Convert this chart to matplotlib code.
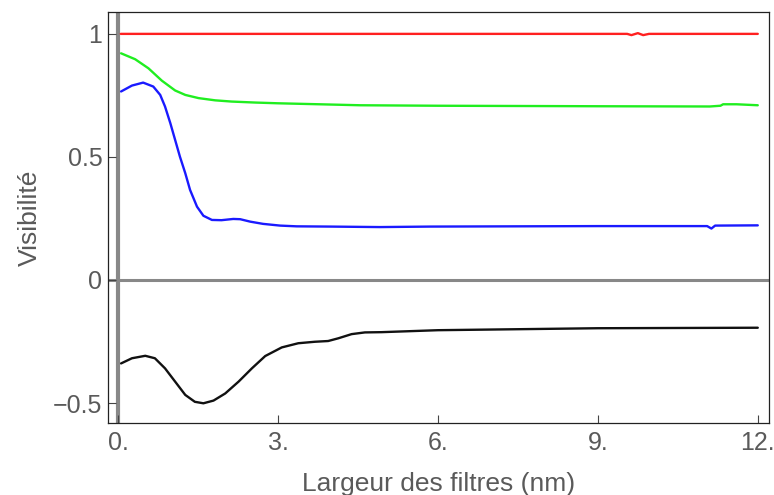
# Visibilite vs largeur des filtres
import matplotlib.pyplot as plt
import numpy as np

plt.rcParams['font.family'] = ['Liberation Sans', 'DejaVu Sans']

# red curve (~1 everywhere, small wiggle near 9.7)
x_red = [0.05, 3.0, 6.0, 9.55, 9.63, 9.75, 9.85, 9.96, 10.5, 12.0]
y_red = [1.0, 1.0, 1.0, 1.0, 0.995, 1.003, 0.995, 1.0, 1.0, 1.0]

# green curve
x_green = [0.056, 0.32, 0.57, 0.82, 1.07, 1.26, 1.51, 1.82, 2.13, 2.57, 3.0, 4.54, 6.0, 9.0,
           11.1, 11.3, 11.35, 11.6, 12.0]
y_green = [0.921, 0.897, 0.860, 0.810, 0.770, 0.752, 0.739, 0.730, 0.725, 0.721, 0.718, 0.710,
           0.708, 0.706, 0.705, 0.708, 0.714, 0.714, 0.71]

# blue curve
x_blue = [0.056, 0.26, 0.47, 0.66, 0.79, 0.88, 0.98, 1.07, 1.16, 1.26, 1.35, 1.48, 1.60, 1.76,
          1.94, 2.16, 2.29, 2.48, 2.72, 3.04, 3.35, 3.98, 4.91, 5.85, 9.0, 11.05, 11.13, 11.2, 12.0]
y_blue = [0.766, 0.790, 0.802, 0.786, 0.752, 0.705, 0.637, 0.569, 0.501, 0.434, 0.366, 0.298,
          0.261, 0.244, 0.243, 0.248, 0.247, 0.237, 0.228, 0.221, 0.218, 0.217, 0.215, 0.217,
          0.219, 0.219, 0.209, 0.221, 0.222]

# black curve
x_black = [0.056, 0.26, 0.51, 0.69, 0.88, 1.07, 1.26, 1.44, 1.60, 1.79, 2.01, 2.26, 2.51, 2.76,
           3.07, 3.38, 3.69, 3.94, 4.13, 4.38, 4.63, 4.94, 6.0, 9.0, 12.0]
y_black = [-0.339, -0.318, -0.308, -0.318, -0.359, -0.413, -0.467, -0.495, -0.501, -0.490,
           -0.461, -0.413, -0.359, -0.309, -0.274, -0.257, -0.251, -0.248, -0.237, -0.220,
           -0.213, -0.212, -0.204, -0.196, -0.194]

x_ticks = [0, 3, 6, 9, 12]
x_tick_labels = ['0.', '3.', '6.', '9.', '12.']
y_ticks = [-0.5, 0, 0.5, 1]
y_tick_labels = ['\u22120.5', '0', '0.5', '1']

fig = plt.figure(figsize=(7.74, 4.95), dpi=100)
ax = fig.add_axes([0.1395, 0.1455, 0.854, 0.8303])

ax.axvline(0, color='#888888', lw=3.0, zorder=1)
ax.axhline(0, color='#888888', lw=2.2, zorder=1)

style = dict(lw=1.7, solid_joinstyle='round', solid_capstyle='round')
ax.plot(x_red, y_red, color='#ff2020', **style)
ax.plot(x_green, y_green, color='#20ee20', **style)
ax.plot(x_blue, y_blue, color='#1a1aff', **style)
ax.plot(x_black, y_black, color='#111111', **style)

ax.set_xlim(-0.19, 12.21)
ax.set_ylim(-0.581, 1.089)

ax.set_xticks(x_ticks)
ax.set_xticklabels(x_tick_labels)
ax.set_yticks(y_ticks)
ax.set_yticklabels(y_tick_labels)
ax.tick_params(direction='in', length=6, width=0.8, color='#444444',
               labelsize=18, labelcolor='#5a5a5a', pad=4)
ax.tick_params(axis='x', pad=6)

for s in ax.spines.values():
    s.set_color('#222222')
    s.set_linewidth(0.9)

ax.set_xlabel('Largeur des filtres (nm)', fontsize=19, color='#5a5a5a', labelpad=12)
ax.set_ylabel('Visibilité', fontsize=19, color='#5a5a5a', labelpad=8)

plt.savefig('out.png', dpi=100)
